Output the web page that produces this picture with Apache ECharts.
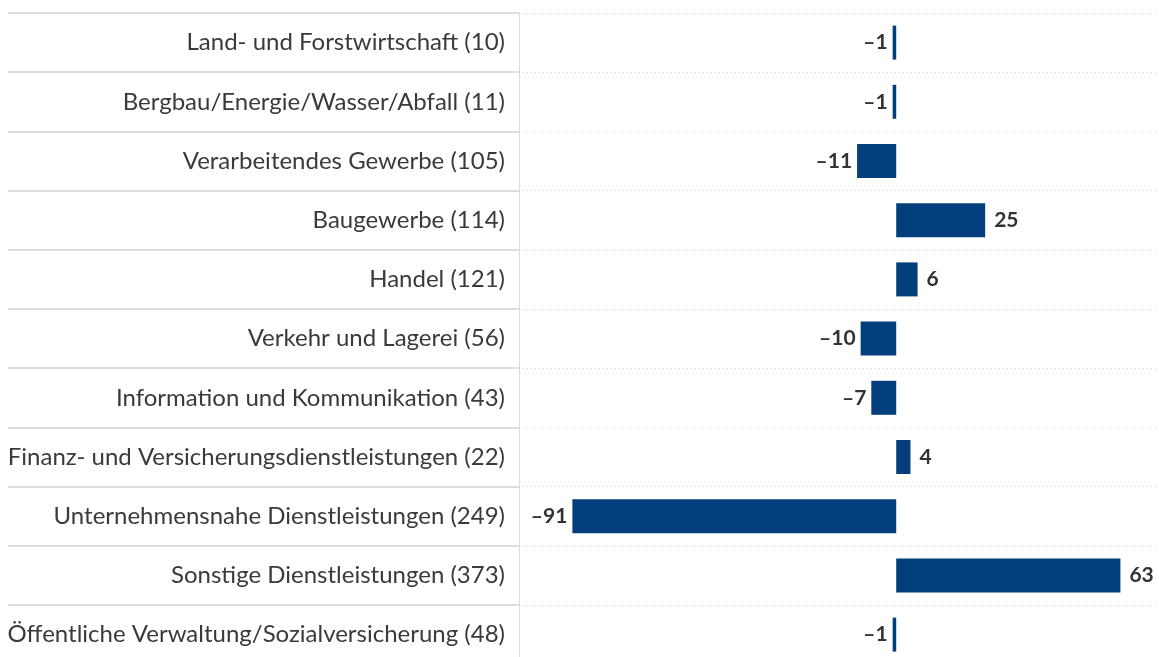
<!DOCTYPE html>
<html lang="de">
<head>
    <meta charset="UTF-8">
    <title>Veränderung nach Wirtschaftszweigen</title>
    <script src="https://cdn.jsdelivr.net/npm/echarts/dist/echarts.min.js"></script>
    <style>
        html, body { margin: 0; padding: 0; background: #fff; overflow: hidden; }
        /* etwas höher als das Fenster: die letzte Zeile wird unten angeschnitten */
        #chart { width: 1159px; height: 672px; }
    </style>
</head>
<body>
<div id="chart"></div>

<script>
    // Wirtschaftszweige (Anzahl in Klammern)
    const categories = [
        'Land- und Forstwirtschaft (10)',
        'Bergbau/Energie/Wasser/Abfall (11)',
        'Verarbeitendes Gewerbe (105)',
        'Baugewerbe (114)',
        'Handel (121)',
        'Verkehr und Lagerei (56)',
        'Information und Kommunikation (43)',
        'Finanz- und Versicherungsdienstleistungen (22)',
        'Unternehmensnahe Dienstleistungen (249)',
        'Sonstige Dienstleistungen (373)',
        'Öffentliche Verwaltung/Sozialversicherung (48)'
    ];
    const values = [-1, -1, -11, 25, 6, -10, -7, 4, -91, 63, -1];

    const rowTop = 13;
    const rowHeight = 59.2;
    const gridHeight = rowHeight * categories.length;

    const barData = values.map(v => ({
        value: v,
        label: v < 0 ? { position: 'left', distance: 5 } : { position: 'right', distance: 9 }
    }));

    const chart = echarts.init(document.getElementById('chart'));
    const option = {
        animation: false,
        grid: [
            // Diagrammbereich
            { left: 519, right: 3, top: rowTop, height: gridHeight },
            // Beschriftungsbereich (nur Trennlinien)
            { left: 8, width: 511, top: rowTop, height: gridHeight }
        ],
        xAxis: [
            {
                type: 'value',
                gridIndex: 0,
                min: -106,
                max: 73,
                show: false,
                splitLine: { show: false }
            },
            {
                type: 'value',
                gridIndex: 1,
                min: 0,
                max: 1,
                show: false
            }
        ],
        yAxis: [
            {
                type: 'category',
                gridIndex: 0,
                data: categories,
                inverse: true,
                axisLine: { show: true, onZero: false, lineStyle: { color: '#dcdcdc', width: 1 } },
                axisTick: { show: false },
                axisLabel: {
                    margin: 14,
                    color: '#3a3a3a',
                    fontSize: 24,
                    fontFamily: 'Lato'
                },
                splitLine: {
                    show: true,
                    lineStyle: { color: '#cfcfcf', type: [1, 3], width: 1 }
                }
            },
            {
                type: 'category',
                gridIndex: 1,
                data: categories,
                inverse: true,
                axisLine: { show: false },
                axisTick: { show: false },
                axisLabel: { show: false },
                splitLine: {
                    show: true,
                    lineStyle: { color: '#dddddd', width: 2 }
                }
            }
        ],
        series: [
            {
                type: 'bar',
                xAxisIndex: 0,
                yAxisIndex: 0,
                data: barData,
                barWidth: 34,
                itemStyle: { color: '#023f7c' },
                label: {
                    show: true,
                    color: '#333',
                    fontSize: 21,
                    fontWeight: 'bold',
                    fontFamily: 'Lato',
                    formatter: p => String(p.value).replace('-', '\u2013')
                }
            }
        ]
    };
    chart.setOption(option);
</script>
</body>
</html>
